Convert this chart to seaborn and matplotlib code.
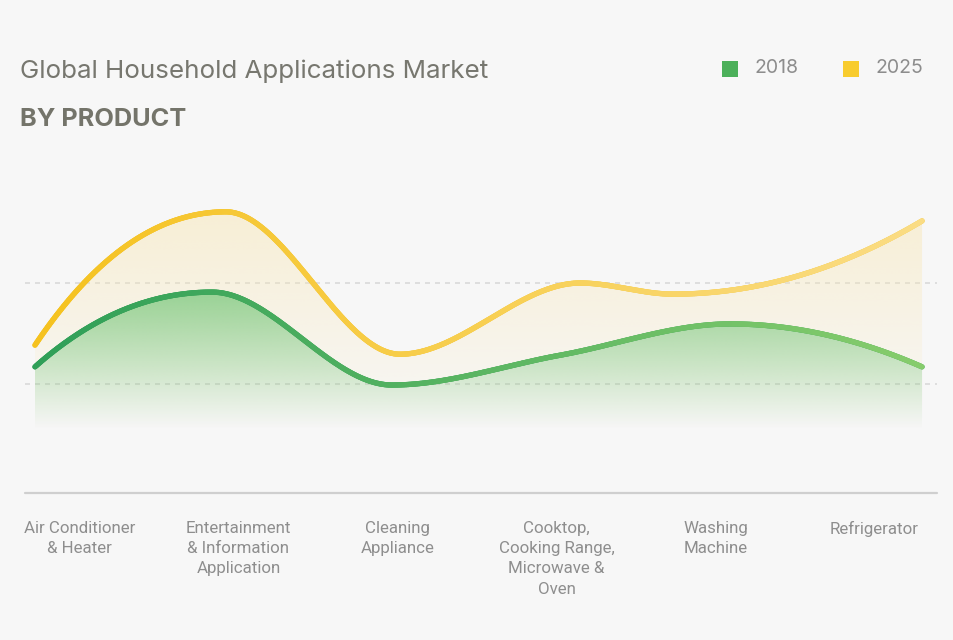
import numpy as np
import pandas as pd
import matplotlib
matplotlib.use("Agg")
import matplotlib.pyplot as plt
import seaborn as sns
from matplotlib.patches import Polygon, Rectangle
from matplotlib.collections import LineCollection
from matplotlib.colors import LinearSegmentedColormap

# ---- data ----
categories = ["Air Conditioner\n& Heater", "Entertainment\n& Information\nApplication",
              "Cleaning\nAppliance", "Cooktop,\nCooking Range,\nMicrowave &\nOven",
              "Washing\nMachine", "Refrigerator"]
values_2018 = [23.4, 38.2, 19.8, 25.7, 31.9, 23.4]
values_2025 = [27.7, 54.1, 25.9, 40.0, 37.8, 52.3]
pos_2018 = [-0.280, 0.833, 1.965, 3.022, 4.091, 5.299]
pos_2025 = [-0.280, 0.921, 2.016, 3.148, 3.733, 5.299]
years = ["2018", "2025"]
title = "Global Household Applications Market"
subtitle = "BY PRODUCT"

# ---- style ----
BG = "#f7f7f7"
GREEN_L, GREEN_R = "#2f9f58", "#86cc6c"
YELLOW_L, YELLOW_R = "#f5c21f", "#fadc84"
sns.set_theme(style="white")
plt.rcParams["font.family"] = ["Inter", "DejaVu Sans"]

W, H = 954, 640
fig = plt.figure(figsize=(W / 100, H / 100), dpi=100, facecolor=BG)
ax = fig.add_axes([0, (H - 495) / H, 1, (495 - 160) / H])
ax.set_facecolor(BG)
ax.set_xlim(-0.5, 5.5)
ax.set_ylim(-1.98, 64.36)


def pchip(xs, ys, n=500):
    xs = np.asarray(xs, float)
    ys = np.asarray(ys, float)
    h = np.diff(xs)
    d = np.diff(ys) / h
    k = len(xs)
    m = np.zeros(k)
    for i in range(1, k - 1):
        if d[i - 1] * d[i] > 0:
            w1 = 2 * h[i] + h[i - 1]
            w2 = h[i] + 2 * h[i - 1]
            m[i] = (w1 + w2) / (w1 / d[i - 1] + w2 / d[i])

    def end(h0, h1, d0, d1):
        v = ((2 * h0 + h1) * d0 - h0 * d1) / (h0 + h1)
        if np.sign(v) != np.sign(d0):
            v = 0.0
        elif np.sign(d0) != np.sign(d1) and abs(v) > abs(3 * d0):
            v = 3 * d0
        return v

    m[0] = end(h[0], h[1], d[0], d[1])
    m[-1] = end(h[-1], h[-2], d[-1], d[-2])
    xx = np.linspace(xs[0], xs[-1], n)
    idx = np.clip(np.searchsorted(xs, xx) - 1, 0, k - 2)
    hh = h[idx]
    t = (xx - xs[idx]) / hh
    h00 = 2 * t ** 3 - 3 * t ** 2 + 1
    h10 = t ** 3 - 2 * t ** 2 + t
    h01 = -2 * t ** 3 + 3 * t ** 2
    h11 = t ** 3 - t ** 2
    yy = h00 * ys[idx] + h10 * hh * m[idx] + h01 * ys[idx + 1] + h11 * hh * m[idx + 1]
    return xx, yy


gx, gy = pchip(pos_2018, values_2018)
yx, yy = pchip(pos_2025, values_2025)

fill_bottom = 11.0


def gradient_fill(xc, yc, color, a_top, a_bot, y_top, y_bot, z):
    poly = Polygon(np.column_stack([np.concatenate([xc, [xc[-1], xc[0]]]),
                                    np.concatenate([yc, [fill_bottom, fill_bottom]])]),
                   closed=True, facecolor="none", edgecolor="none")
    ax.add_patch(poly)
    rgb = matplotlib.colors.to_rgb(color)
    ny = 256
    alphas = np.linspace(a_top, a_bot, ny)[:, None]
    img = np.zeros((ny, 2, 4))
    img[..., 0], img[..., 1], img[..., 2] = rgb
    img[..., 3] = alphas
    im = ax.imshow(img, extent=[xc[0], xc[-1], y_bot, y_top], origin="upper",
                   aspect="auto", zorder=z, interpolation="bilinear")
    im.set_clip_path(poly)


gradient_fill(yx, yy, "#f9e6b0", 0.5, 0.0, 56, fill_bottom, 1)
gradient_fill(gx, gy, "#5fbf66", 0.62, 0.0, 38, fill_bottom, 2)

# grid lines
for gv in (20, 40):
    ax.plot([-0.343, 5.393], [gv, gv], color="#d9d9d9", lw=1.2, ls=(0, (3, 3)), zorder=0.5)

# baseline
ax.plot([-0.343, 5.393], [-1.6, -1.6], color="#cfcfcf", lw=1.6, zorder=3, clip_on=False)

df = pd.DataFrame({
    "x": np.concatenate([gx, yx]),
    "y": np.concatenate([gy, yy]),
    "year": [years[0]] * len(gx) + [years[1]] * len(yx),
})
sns.lineplot(data=df, x="x", y="y", hue="year", palette={years[0]: GREEN_L, years[1]: YELLOW_L},
             sort=False, estimator=None, lw=3.8, ax=ax, legend=False, zorder=4,
             solid_capstyle="round")

# horizontal colour gradient along each line
for xc, yc, cl, cr in ((gx, gy, GREEN_L, GREEN_R), (yx, yy, YELLOW_L, YELLOW_R)):
    cmap = LinearSegmentedColormap.from_list("g", [cl, cr])
    pts = np.column_stack([xc, yc])
    segs = np.stack([pts[:-1], pts[1:]], axis=1)
    lc = LineCollection(segs, colors=cmap(np.linspace(0, 1, len(segs))), linewidths=3.8,
                        capstyle="round", zorder=5)
    ax.add_collection(lc)

ax.set_xticks(range(len(categories)))
ax.set_xticklabels(categories, fontsize=12.2, color="#8e8e8e", linespacing=1.42,
                   family=["Roboto", "DejaVu Sans"])
ax.tick_params(axis="x", length=0, pad=19)
ax.set_yticks([])
ax.set_xlabel("")
ax.set_ylabel("")
for s in ax.spines.values():
    s.set_visible(False)

# titles
fig.text(20 / W, 1 - 71 / H, title, fontsize=18.7, color="#77776f", va="center", ha="left")
fig.text(20 / W, 1 - 120 / H, subtitle, fontsize=18.3, color="#74746a", va="center", ha="left",
         fontweight="bold")

# legend
for (xm, xt, col, lab) in ((722, 755, "#4cb05a", years[0]), (843, 876, "#f8cc2e", years[1])):
    fig.patches.append(Rectangle((xm / W, 1 - 77 / H), 16 / W, 16 / H, transform=fig.transFigure,
                                 facecolor=col, edgecolor="none"))
    fig.text(xt / W, 1 - 68 / H, lab, fontsize=14, color="#8d8d8d", va="center", ha="left")

fig.savefig("out.png", dpi=100, facecolor=BG)
